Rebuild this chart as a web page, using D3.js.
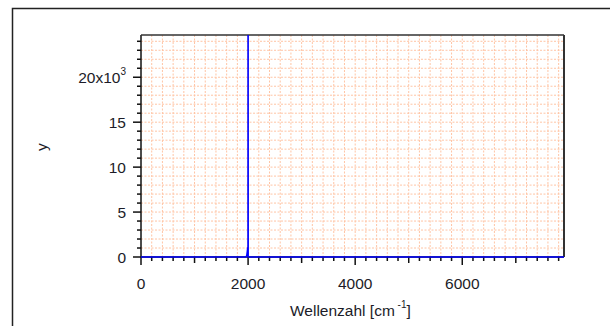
<!DOCTYPE html>
<html><head><meta charset="utf-8">
<script src="https://cdn.jsdelivr.net/npm/d3@7"></script>
<style>body{margin:0;background:#fff}svg{display:block}text{font-family:"Liberation Sans",Arial,sans-serif}</style>
</head><body>
<svg id="c" width="610" height="326"></svg>
<script>
const wavenumber = [0, 1000, 1960, 1975, 1985, 1992, 1998, 2000, 2002, 2010, 3000, 5000, 7000, 7900];
const intensity  = [0, 0, 0, 150, 600, 1000, 1000, 60000, 0, 0, 0, 0, 0, 0];
const xTickValues = [0, 2000, 4000, 6000];
const yTickValues = [0, 5000, 10000, 15000, 20000];
const yTickLabels = ["0", "5", "10", "15", "20x10"];

const svg = d3.select("#c");
const L = 141, R = 564, T = 35, B = 257;
const x = d3.scaleLinear().domain([0, 7900]).range([L, R]);
const y = d3.scaleLinear().domain([0, 24700]).range([B, T]);
const FS = 15.5, TXT = "#1c1c28";

// outer frame
svg.append("rect").attr("x", 12.5).attr("y", 8.5).attr("width", 700).attr("height", 400)
  .attr("fill", "none").attr("stroke", "#222").attr("stroke-width", 1.5);

// grid
const grid = svg.append("g");
const xMinor = d3.range(0, 7901, 200);
const yMinor = d3.range(0, 24701, 1000);
grid.selectAll(".gx").data(xMinor.filter(d => d > 0)).join("line")
  .attr("x1", d => x(d)).attr("x2", d => x(d)).attr("y1", T).attr("y2", B)
  .attr("stroke", "#ffc4a4").attr("stroke-width", 1).attr("stroke-dasharray", "2,1.5");
grid.selectAll(".gy").data(yMinor.filter(d => d > 0)).join("line")
  .attr("y1", d => y(d)).attr("y2", d => y(d)).attr("x1", L).attr("x2", R)
  .attr("stroke", "#ffc4a4").attr("stroke-width", 1).attr("stroke-dasharray", "2,1.5");

// clip
svg.append("clipPath").attr("id", "clip").append("rect")
  .attr("x", L).attr("y", T).attr("width", R - L).attr("height", B - T + 1);

// axes ticks
const ax = svg.append("g").attr("stroke", "#111").attr("stroke-width", 1.5);
ax.selectAll(".tx").data(xMinor).join("line")
  .attr("x1", d => x(d)).attr("x2", d => x(d)).attr("y1", B)
  .attr("y2", d => B + (d % 2000 === 0 ? 8 : d % 1000 === 0 ? 6 : 4));
ax.selectAll(".ty").data(yMinor).join("line")
  .attr("y1", d => y(d)).attr("y2", d => y(d)).attr("x1", L)
  .attr("x2", d => L - (d % 5000 === 0 ? 8 : 4));

// frame of plot
svg.append("line").attr("x1", L).attr("x2", L).attr("y1", T).attr("y2", B).attr("stroke", "#111").attr("stroke-width", 1.5);
svg.append("line").attr("x1", L).attr("x2", R).attr("y1", T).attr("y2", T).attr("stroke", "#333").attr("stroke-width", 1.5);
svg.append("line").attr("x1", R).attr("x2", R).attr("y1", T).attr("y2", B).attr("stroke", "#333").attr("stroke-width", 2);
svg.append("line").attr("x1", L).attr("x2", R).attr("y1", B).attr("y2", B).attr("stroke", "#111").attr("stroke-width", 1.5);

// data
const line = d3.line().x((d, i) => x(wavenumber[i])).y(d => y(d));
svg.append("path").datum(intensity).attr("clip-path", "url(#clip)")
  .attr("d", line).attr("fill", "none").attr("stroke", "#0000ff").attr("stroke-width", 1.5);

// tick labels
svg.selectAll(".xl").data(xTickValues).join("text")
  .attr("x", d => x(d)).attr("y", 289).attr("text-anchor", "middle")
  .attr("font-size", FS).attr("fill", TXT).text(d => d);
const yl = svg.selectAll(".yl").data(yTickValues).join("text")
  .attr("x", 126).attr("y", d => y(d) + 5.5).attr("text-anchor", "end")
  .attr("font-size", FS).attr("fill", TXT);
yl.text((d, i) => yTickLabels[i]);
yl.filter((d, i) => i === 4).append("tspan").attr("dy", -8).attr("font-size", 10).text("3");

// axis titles
svg.append("text").attr("transform", "translate(47,147) rotate(-90)").attr("text-anchor", "middle")
  .attr("font-size", FS).attr("fill", TXT).text("y");
const xt = svg.append("text").attr("x", 290).attr("y", 316).attr("font-size", FS).attr("fill", TXT);
xt.append("tspan").text("Wellenzahl [cm");
xt.append("tspan").attr("dy", -8).attr("font-size", 10).text(" -1");
xt.append("tspan").attr("dy", 8).text("]");
</script>
</body></html>
